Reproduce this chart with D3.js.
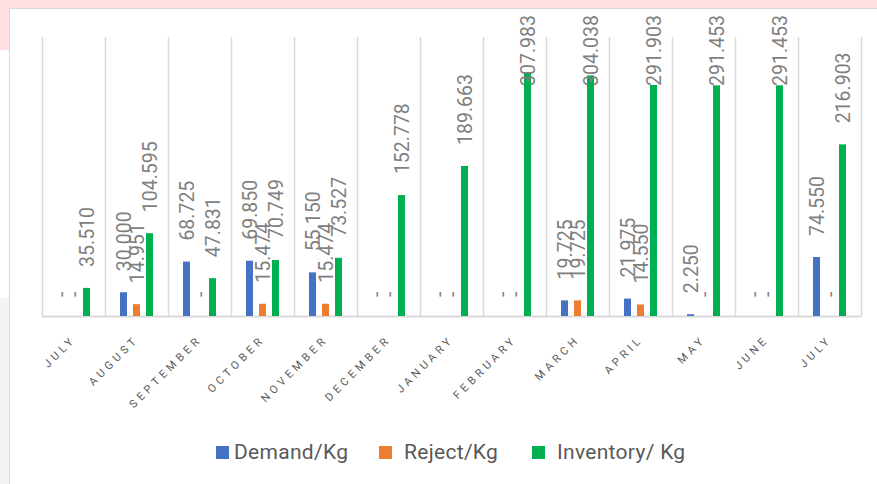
<!DOCTYPE html>
<html>
<head>
<meta charset="utf-8">
<script src="https://cdn.jsdelivr.net/npm/d3@7"></script>
<style>
  html, body { margin: 0; padding: 0; background: #fff; }
  svg { display: block; font-family: Roboto, "Noto Sans", sans-serif; }
</style>
</head>
<body>
<svg id="chart" width="877" height="484"></svg>
<script>
// months along the x axis (the year wraps round, so July shows twice)
const months = ["JULY", "AUGUST", "SEPTEMBER", "OCTOBER", "NOVEMBER", "DECEMBER",
  "JANUARY", "FEBRUARY", "MARCH", "APRIL", "MAY", "JUNE", "JULY"];

// kg per month
const demand = [0, 30.000, 68.725, 69.850, 55.150, 0, 0, 0, 19.725, 21.975, 2.250, 0, 74.550];
const reject = [0, 14.951, 0, 15.474, 15.474, 0, 0, 0, 19.725, 14.550, 0, 0, 0];
const inventory = [35.510, 104.595, 47.831, 70.749, 73.527, 152.778, 189.663,
  307.983, 304.038, 291.903, 291.453, 291.453, 216.903];

const seriesNames = ["Demand/Kg", "Reject/Kg", "Inventory/ Kg"];
const colors = ["#4472c4", "#ed7d31", "#00b050"];

const svg = d3.select("#chart");

// page background bits around the chart panel
svg.append("rect").attr("x", 0).attr("y", 0).attr("width", 877).attr("height", 8).attr("fill", "#ffdfe1");
svg.append("rect").attr("x", 0).attr("y", 0).attr("width", 9).attr("height", 50).attr("fill", "#ffdfe1");
svg.append("rect").attr("x", 0).attr("y", 298).attr("width", 9).attr("height", 186).attr("fill", "#f3f3f3");
svg.append("rect")
  .attr("x", 9.5).attr("y", 8.5).attr("width", 900).attr("height", 500)
  .attr("fill", "#fff").attr("stroke", "#d9d9d9");

const x = d3.scaleBand()
  .domain(d3.range(months.length))
  .range([42, 861]);

const y = d3.scaleLinear()
  .domain([0, 350])
  .range([316, 39]);

const series = [demand, reject, inventory];
const offsets = [-13, 0, 13]; // bar centre relative to the category centre
const barW = 7;

// vertical category separators
svg.append("g")
  .selectAll("line")
  .data(d3.range(months.length + 1))
  .join("line")
    .attr("x1", i => Math.round(42 + i * x.step()) + 0.5)
    .attr("x2", i => Math.round(42 + i * x.step()) + 0.5)
    .attr("y1", 37)
    .attr("y2", y(0))
    .attr("stroke", "#d9d9d9")
    .attr("stroke-width", 1.5);

// baseline
svg.append("line")
  .attr("x1", 42).attr("x2", 861.5)
  .attr("y1", y(0) + 0.5).attr("y2", y(0) + 0.5)
  .attr("stroke", "#d9d9d9").attr("stroke-width", 2);

// bars
const groups = svg.append("g")
  .selectAll("g")
  .data(series)
  .join("g")
    .attr("fill", (d, i) => colors[i]);

groups.each(function (vals, s) {
  d3.select(this).selectAll("rect")
    .data(vals)
    .join("rect")
      .attr("x", (d, i) => x(i) + x.bandwidth() / 2 + offsets[s] - barW / 2)
      .attr("width", barW)
      .attr("y", d => y(d))
      .attr("height", d => y(0) - y(d));
});

// data labels, rotated, zeros shown as a dash
// labels that would run off the top get pushed down over their bar
const fmt = d3.format(".3f");
const labels = svg.append("g")
  .attr("fill", "#7f7f7f")
  .attr("font-size", 19.5);

series.forEach((vals, s) => {
  labels.selectAll(null)
    .data(vals)
    .join("text")
      .text(d => d === 0 ? "-" : fmt(d))
      .attr("transform", function (d, i) {
        const cx = x(i) + x.bandwidth() / 2 + offsets[s] + 7;
        let ty = y(d) - (d === 0 ? 19 : 21);
        const len = this.getComputedTextLength();
        if (ty - len < 15) ty = 15 + len;
        return `translate(${cx},${ty}) rotate(-90)`;
      });
});

// x axis labels
svg.append("g")
  .attr("fill", "#595959")
  .attr("font-size", 11)
  .attr("letter-spacing", 3.9)
  .selectAll("text")
  .data(months)
  .join("text")
    .attr("text-anchor", "end")
    .attr("transform", (d, i) => `translate(${x(i) + x.bandwidth() / 2 + 3},${340}) rotate(-45)`)
    .text(d => d);

// legend
const legendX = [216, 379, 532];
const legendTextX = [234, 404, 557];
const legend = svg.append("g");
seriesNames.forEach((name, i) => {
  legend.append("rect")
    .attr("x", legendX[i]).attr("y", 446)
    .attr("width", 13).attr("height", 13)
    .attr("fill", colors[i]);
  legend.append("text")
    .attr("x", legendTextX[i]).attr("y", 459)
    .attr("fill", "#595959")
    .attr("font-size", 21)
    .attr("letter-spacing", 0.3)
    .text(name);
});
</script>
</body>
</html>
